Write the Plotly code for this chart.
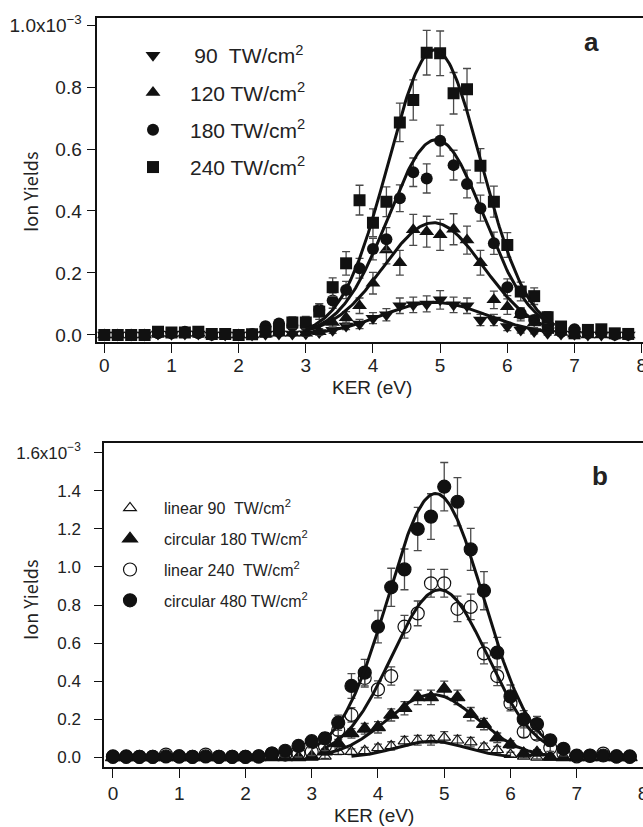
import numpy as np
import plotly.graph_objects as go

# ---------------- data (ion yields in units of 1e-3) ----------------
KER = [0.0, 0.2, 0.4, 0.6, 0.8, 1.0, 1.2, 1.4, 1.6, 1.8,
       2.0, 2.2, 2.4, 2.6, 2.8, 3.0, 3.2, 3.4, 3.6, 3.8,
       4.0, 4.2, 4.4, 4.6, 4.8, 5.0, 5.2, 5.4, 5.6, 5.8,
       6.0, 6.2, 6.4, 6.6, 6.8, 7.0, 7.2, 7.4, 7.6, 7.8]

# panel a
a_90 = [0.000, 0.000, 0.000, 0.000, 0.003, 0.002, 0.003, 0.003, 0.000, 0.000,
        0.000, 0.000, 0.002, 0.003, 0.003, 0.004, 0.008, 0.015, 0.029, 0.035,
        0.054, 0.065, 0.094, 0.097, 0.100, 0.113, 0.097, 0.094, 0.048, 0.048,
        0.027, 0.016, 0.011, 0.005, 0.003, 0.002, 0.000, 0.000, 0.000, 0.000]
a_90_err = [0.006, 0.006, 0.006, 0.006, 0.006, 0.006, 0.006, 0.006, 0.006, 0.006,
            0.006, 0.006, 0.006, 0.006, 0.006, 0.006, 0.008, 0.010, 0.012, 0.015,
            0.018, 0.020, 0.025, 0.025, 0.026, 0.030, 0.025, 0.025, 0.018, 0.018,
            0.013, 0.010, 0.008, 0.006, 0.006, 0.006, 0.006, 0.006, 0.006, 0.006]
a_120 = [0.000, 0.000, 0.000, 0.000, 0.005, 0.003, 0.005, 0.005, 0.000, 0.000,
         0.000, 0.000, 0.003, 0.005, 0.005, 0.005, 0.010, 0.040, 0.055, 0.094,
         0.167, 0.274, 0.233, 0.339, 0.333, 0.323, 0.341, 0.306, 0.233, 0.113,
         0.091, 0.065, 0.038, 0.020, 0.008, 0.003, 0.000, 0.000, 0.000, 0.000]
a_120_err = [0.006, 0.006, 0.006, 0.006, 0.006, 0.006, 0.006, 0.006, 0.006, 0.006,
             0.006, 0.006, 0.006, 0.006, 0.006, 0.008, 0.010, 0.015, 0.020, 0.025,
             0.035, 0.045, 0.040, 0.050, 0.050, 0.050, 0.050, 0.045, 0.040, 0.028,
             0.025, 0.020, 0.015, 0.010, 0.008, 0.006, 0.006, 0.006, 0.006, 0.006]
a_180 = [0.000, 0.000, 0.000, 0.000, 0.005, 0.005, 0.010, 0.005, 0.000, 0.002,
         0.000, 0.003, 0.028, 0.037, 0.030, 0.030, 0.081, 0.111, 0.145, 0.215,
         0.277, 0.309, 0.441, 0.525, 0.505, 0.627, 0.548, 0.487, 0.409, 0.296,
         0.154, 0.070, 0.048, 0.027, 0.010, 0.018, 0.005, 0.008, 0.000, 0.000]
a_180_err = [0.006, 0.006, 0.006, 0.006, 0.006, 0.006, 0.006, 0.006, 0.006, 0.006,
             0.006, 0.006, 0.012, 0.012, 0.012, 0.012, 0.020, 0.025, 0.028, 0.032,
             0.035, 0.037, 0.043, 0.046, 0.047, 0.050, 0.048, 0.045, 0.042, 0.036,
             0.027, 0.018, 0.015, 0.010, 0.006, 0.006, 0.006, 0.006, 0.006, 0.006]
a_240 = [0.000, 0.000, 0.000, 0.000, 0.010, 0.008, 0.008, 0.010, 0.003, 0.003,
         0.000, 0.002, 0.010, 0.020, 0.040, 0.040, 0.075, 0.154, 0.231, 0.435,
         0.362, 0.430, 0.686, 0.758, 0.911, 0.909, 0.780, 0.793, 0.546, 0.430,
         0.290, 0.140, 0.125, 0.057, 0.027, 0.005, 0.016, 0.018, 0.005, 0.003]
a_240_err = [0.008, 0.008, 0.008, 0.008, 0.008, 0.008, 0.008, 0.008, 0.008, 0.008,
             0.008, 0.008, 0.010, 0.012, 0.018, 0.020, 0.025, 0.030, 0.038, 0.048,
             0.045, 0.048, 0.062, 0.065, 0.072, 0.072, 0.067, 0.067, 0.055, 0.050,
             0.040, 0.030, 0.027, 0.018, 0.012, 0.008, 0.008, 0.008, 0.008, 0.008]

# panel b
b_lin90 = [0.000, 0.000, 0.000, 0.000, 0.000, 0.000, 0.000, 0.000, 0.000, 0.000,
           0.000, 0.000, 0.000, 0.000, 0.000, 0.000, 0.005, 0.030, 0.030, 0.035,
           0.050, 0.060, 0.085, 0.090, 0.090, 0.105, 0.090, 0.080, 0.055, 0.040,
           0.015, 0.005, 0.000, 0.000, 0.000, 0.000, 0.000, 0.000, 0.000, 0.000]
b_lin90_err = [0.008, 0.008, 0.008, 0.008, 0.008, 0.008, 0.008, 0.008, 0.008, 0.008,
               0.008, 0.008, 0.008, 0.008, 0.008, 0.008, 0.010, 0.015, 0.015, 0.018,
               0.020, 0.022, 0.025, 0.026, 0.026, 0.030, 0.026, 0.025, 0.020, 0.018,
               0.012, 0.008, 0.008, 0.008, 0.008, 0.008, 0.008, 0.008, 0.008, 0.008]
b_circ180 = [0.000, 0.000, 0.000, 0.000, 0.000, 0.000, 0.000, 0.000, 0.000, 0.000,
             0.000, 0.000, 0.000, 0.000, 0.000, 0.005, 0.030, 0.074, 0.126, 0.150,
             0.158, 0.223, 0.258, 0.315, 0.315, 0.360, 0.315, 0.227, 0.175, 0.103,
             0.068, 0.020, 0.025, 0.003, 0.000, 0.000, 0.000, 0.000, 0.000, 0.000]
b_circ180_err = [0.008, 0.008, 0.008, 0.008, 0.008, 0.008, 0.008, 0.008, 0.008, 0.008,
                 0.008, 0.008, 0.008, 0.008, 0.008, 0.010, 0.015, 0.020, 0.025, 0.028,
                 0.030, 0.032, 0.035, 0.038, 0.038, 0.040, 0.038, 0.035, 0.030, 0.025,
                 0.020, 0.015, 0.015, 0.010, 0.008, 0.008, 0.008, 0.008, 0.008, 0.008]
b_lin240 = [0.003, 0.003, 0.003, 0.003, 0.015, 0.005, 0.003, 0.015, 0.003, 0.003,
            0.003, 0.005, 0.020, 0.015, 0.020, 0.030, 0.060, 0.144, 0.223, 0.417,
            0.357, 0.427, 0.686, 0.756, 0.914, 0.914, 0.780, 0.790, 0.546, 0.427,
            0.284, 0.135, 0.120, 0.050, 0.020, 0.005, 0.010, 0.020, 0.005, 0.003]
b_lin240_err = [0.010, 0.010, 0.010, 0.010, 0.010, 0.010, 0.010, 0.010, 0.010, 0.010,
                0.010, 0.010, 0.012, 0.012, 0.018, 0.020, 0.025, 0.030, 0.038, 0.048,
                0.045, 0.048, 0.060, 0.065, 0.073, 0.073, 0.067, 0.067, 0.055, 0.050,
                0.040, 0.030, 0.027, 0.018, 0.012, 0.010, 0.010, 0.010, 0.010, 0.010]
b_circ480 = [0.005, 0.005, 0.003, 0.003, 0.005, 0.005, 0.003, 0.005, 0.003, 0.003,
             0.003, 0.005, 0.020, 0.035, 0.060, 0.085, 0.100, 0.182, 0.375, 0.445,
             0.686, 0.893, 0.987, 1.199, 1.264, 1.421, 1.342, 1.092, 0.875, 0.550,
             0.320, 0.200, 0.175, 0.090, 0.045, 0.010, 0.008, 0.010, 0.005, 0.005]
b_circ480_err = [0.010, 0.010, 0.010, 0.010, 0.010, 0.010, 0.010, 0.010, 0.010, 0.010,
                 0.010, 0.010, 0.012, 0.015, 0.020, 0.025, 0.030, 0.040, 0.065, 0.070,
                 0.085, 0.100, 0.107, 0.114, 0.120, 0.127, 0.127, 0.110, 0.100, 0.080,
                 0.060, 0.045, 0.040, 0.030, 0.020, 0.010, 0.010, 0.010, 0.010, 0.010]

# Gaussian fit parameters: amplitude, centre, sigma, x-start, x-end
fit_a_amp = [0.105, 0.362, 0.630, 0.920]
fit_a_cen = [4.92, 4.90, 4.94, 4.92]
fit_a_sig = [0.78, 0.745, 0.71, 0.69]
fit_a_lo = [3.0, 3.0, 3.0, 3.0]
fit_a_hi = [6.7, 6.7, 6.7, 6.7]

fit_b_amp = [0.085, 0.330, 0.880, 1.385]
fit_b_cen = [4.80, 4.82, 4.93, 4.87]
fit_b_sig = [0.52, 0.68, 0.72, 0.72]
fit_b_lo = [3.6, 3.2, 3.2, 3.0]
fit_b_hi = [6.0, 6.6, 6.6, 6.6]

labels_a = ["\u200990  TW/cm<sup>2</sup>", "120 TW/cm<sup>2</sup>",
            "180 TW/cm<sup>2</sup>", "240 TW/cm<sup>2</sup>"]
labels_b = ["linear 90  TW/cm<sup>2</sup>", "circular 180 TW/cm<sup>2</sup>",
            "linear 240  TW/cm<sup>2</sup>", "circular 480 TW/cm<sup>2</sup>"]

yticks_a = [0.0, 0.2, 0.4, 0.6, 0.8, 1.0]
yticktext_a = ["0.0", "0.2", "0.4", "0.6", "0.8", "1.0x10<sup>\u22123</sup>"]
yticks_b = [0.0, 0.2, 0.4, 0.6, 0.8, 1.0, 1.2, 1.4, 1.6]
yticktext_b = ["0.0", "0.2", "0.4", "0.6", "0.8", "1.0", "1.2", "1.4", "1.6x10<sup>\u22123</sup>"]
xticks = [0, 1, 2, 3, 4, 5, 6, 7, 8]

# ---------------- figure ----------------
W, H = 643, 827
BLACK = "#111111"
ERR = "#4a4a4a"
SANS = "Liberation Sans, Arial, Helvetica"
TICKFONT_X = dict(family=SANS, size=19, color="#222")
TICKFONT_Y = dict(family=SANS, size=19, color="#222")
TICKFONT_Y2 = dict(family=SANS, size=17, color="#222")

fig = go.Figure()

series_a = [
    (a_90, a_90_err, "triangle-down", 13),
    (a_120, a_120_err, "triangle-up", 13),
    (a_180, a_180_err, "circle", 12),
    (a_240, a_240_err, "square", 12),
]
for i, ((vals, errs, sym, sz), lab) in enumerate(zip(series_a, labels_a)):
    fig.add_trace(go.Scatter(
        x=KER, y=vals, mode="markers", name=lab, xaxis="x", yaxis="y",
        marker=dict(symbol=sym, size=sz, color=BLACK, line=dict(width=0)),
        error_y=dict(type="data", array=errs, visible=True, color=ERR, thickness=1.3, width=4),
        legend="legend", legendgroup="a%d" % i, showlegend=True))

series_b = [
    (b_lin90, b_lin90_err, "triangle-up-open", 11),
    (b_circ180, b_circ180_err, "triangle-up", 13),
    (b_lin240, b_lin240_err, "circle-open", 13),
    (b_circ480, b_circ480_err, "circle", 13),
]
for i, ((vals, errs, sym, sz), lab) in enumerate(zip(series_b, labels_b)):
    fig.add_trace(go.Scatter(
        x=KER, y=vals, mode="markers", name=lab, xaxis="x2", yaxis="y2",
        marker=dict(symbol=sym, size=sz, color=BLACK, line=dict(width=1.2, color=BLACK)),
        error_y=dict(type="data", array=errs, visible=True, color=ERR, thickness=1.3, width=4),
        legend="legend2", legendgroup="b%d" % i, showlegend=True))

def add_fits(amp, cen, sig, lo, hi, xa, ya):
    for A, c, s, a, b in zip(amp, cen, sig, lo, hi):
        xs = np.linspace(a, b, 200)
        ys = A * np.exp(-(xs - c) ** 2 / (2 * s ** 2))
        fig.add_trace(go.Scatter(x=xs, y=ys, mode="lines", xaxis=xa, yaxis=ya,
                                 line=dict(color=BLACK, width=3), showlegend=False,
                                 hoverinfo="skip"))

add_fits(fit_a_amp, fit_a_cen, fit_a_sig, fit_a_lo, fit_a_hi, "x", "y")
add_fits(fit_b_amp, fit_b_cen, fit_b_sig, fit_b_lo, fit_b_hi, "x2", "y2")

def px_x(p):
    return p / W

def px_y(p):
    return 1 - p / H

axis_common = dict(showgrid=False, zeroline=False, showline=True, linecolor=BLACK,
                   linewidth=1.5, ticks="outside", tickwidth=1.3, tickcolor=BLACK,
                   automargin=False)

fig.update_layout(
    width=W, height=H, margin=dict(l=0, r=0, t=0, b=0, autoexpand=False),
    paper_bgcolor="white", plot_bgcolor="white",
    xaxis=dict(domain=[px_x(97.3), 1.0], range=[-0.104, 8.02], anchor="y",
               tickvals=xticks, ticklen=9, mirror=True, tickfont=TICKFONT_X,
               ticklabelstandoff=-4, ticklabeloverflow="allow", **axis_common),
    yaxis=dict(domain=[px_y(342), px_y(18)], range=[-0.023, 1.023], anchor="x",
               tickvals=yticks_a, ticktext=yticktext_a, ticklen=9, tickfont=TICKFONT_Y,
               ticklabelstandoff=1, **axis_common),
    xaxis2=dict(domain=[px_x(104), 1.0], range=[-0.135, 8.0], anchor="y2",
                tickvals=xticks, ticklen=9, mirror=True, tickfont=TICKFONT_X,
                ticklabelstandoff=-1, ticklabeloverflow="allow", **axis_common),
    yaxis2=dict(domain=[px_y(767.3), px_y(442.7)], range=[-0.052, 1.652], anchor="x2",
                tickvals=yticks_b, ticktext=yticktext_b, ticklen=8, ticklabelstandoff=10,
                tickfont=TICKFONT_Y2, **axis_common),
    legend=dict(x=px_x(116), y=px_y(35), xanchor="left", yanchor="top",
                bgcolor="rgba(0,0,0,0)", font=dict(family=SANS, size=21, color="#222"),
                traceorder="grouped", itemwidth=64, tracegroupgap=7),
    legend2=dict(x=px_x(96), y=px_y(491), xanchor="left", yanchor="top",
                 bgcolor="rgba(0,0,0,0)", font=dict(family=SANS, size=16, color="#222"),
                 traceorder="grouped", itemwidth=58, tracegroupgap=7),
    annotations=[
        dict(text="<b>a</b>", x=px_x(591), y=px_y(42), xref="paper", yref="paper", showarrow=False,
             font=dict(family=SANS, size=26, color="#222"), xanchor="center", yanchor="middle"),
        dict(text="<b>b</b>", x=px_x(600), y=px_y(476), xref="paper", yref="paper", showarrow=False,
             font=dict(family=SANS, size=26, color="#222"), xanchor="center", yanchor="middle"),
        dict(text="Ion Yields", x=px_x(30), y=px_y(192), xref="paper", yref="paper", showarrow=False,
             textangle=-90, font=dict(family="Noto Sans CJK JP, Liberation Sans", size=18, color="#222"),
             xanchor="center", yanchor="middle"),
        dict(text="Ion Yields", x=px_x(30), y=px_y(600), xref="paper", yref="paper", showarrow=False,
             textangle=-90, font=dict(family="Noto Sans CJK JP, Liberation Sans", size=18, color="#222"),
             xanchor="center", yanchor="middle"),
        dict(text="KER (eV)", x=px_x(372), y=px_y(387), xref="paper", yref="paper", showarrow=False,
             font=dict(family=SANS, size=19, color="#222"), xanchor="center", yanchor="middle"),
        dict(text="KER (eV)", x=px_x(374), y=px_y(815), xref="paper", yref="paper", showarrow=False,
             font=dict(family=SANS, size=19, color="#222"), xanchor="center", yanchor="middle"),
    ],
)

fig.write_html("out.html", config={"displayModeBar": False},
               post_script="document.body.style.margin='0';document.body.style.overflow='hidden';")
